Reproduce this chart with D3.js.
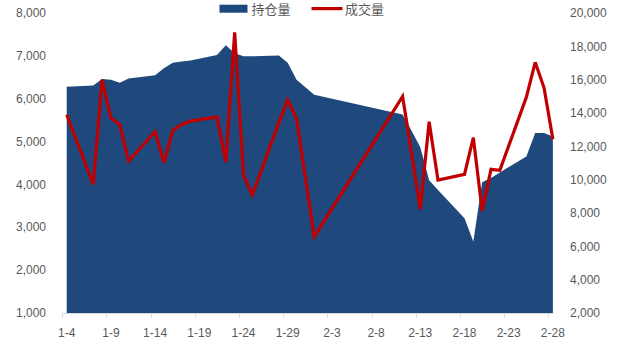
<!DOCTYPE html>
<html>
<head>
<meta charset="utf-8">
<script src="https://cdn.jsdelivr.net/npm/d3@7"></script>
<style>
  html, body { margin: 0; padding: 0; background: #fff; }
  svg { display: block; }
  text { font-family: "Liberation Sans", Arial, sans-serif; fill: #595959; }
  .legend text { font-family: "Noto Sans CJK SC", sans-serif; }
</style>
</head>
<body>
<svg id="chart" width="619" height="342"></svg>
<script>
// ---- data (month-day, year 2021) ----
const dates = ["1-4","1-7","1-8","1-9","1-10","1-11","1-14","1-15","1-16","1-17","1-18",
  "1-21","1-22","1-23","1-24","1-25","1-28","1-29","1-30","2-1","2-11","2-12","2-13",
  "2-14","2-15","2-18","2-19","2-20","2-21","2-22","2-25","2-26","2-27","2-28"];
const openInterest = [6280,6310,6460,6440,6375,6470,6550,6710,6840,6870,6890,
  7020,7250,7060,6990,6990,7010,6840,6440,6090,5630,5260,4870,
  4100,3870,3210,2670,4050,4150,4280,4650,5200,5200,5120];
const volume = [13900,9720,16000,13700,13310,11120,12880,11020,12950,13310,13510,
  13770,11060,18840,10260,9090,13420,14780,13660,6580,14990,11640,8225,
  13475,9980,10320,12520,8125,10620,10560,14950,17040,15510,12420];
const xTickLabels = ["1-4","1-9","1-14","1-19","1-24","1-29","2-3","2-8","2-13","2-18","2-23","2-28"];
const leftTicks = [1000,2000,3000,4000,5000,6000,7000,8000];
const rightTicks = [2000,4000,6000,8000,10000,12000,14000,16000,18000,20000];
const seriesNames = ["持仓量","成交量"];

const YEAR = 2021;
const DAY = 86400000;
const parse = s => { const [m, d] = s.split("-").map(Number); return new Date(Date.UTC(YEAR, m - 1, d)); };
const rows = dates.map((d, i) => ({ date: parse(d), oi: openInterest[i], vol: volume[i] }));

const svg = d3.select("#chart");
const first = parse(xTickLabels[0]);
const last = parse(xTickLabels[xTickLabels.length - 1]);

const x = d3.scaleUtc()
  .domain([new Date(+first - DAY / 2), new Date(+last + DAY / 2)])
  .range([62.3, 557.3]);
const yL = d3.scaleLinear().domain([1000, 8000]).range([313, 13]);
const yR = d3.scaleLinear().domain([2000, 20000]).range([313, 13]);

// area
const area = d3.area()
  .x(d => x(d.date))
  .y0(yL(1000))
  .y1(d => yL(d.oi));
svg.append("path").datum(rows)
  .attr("d", area)
  .attr("fill", "#1F497D");

// x axis line + ticks
svg.append("line")
  .attr("x1", x(new Date(+first - DAY / 2))).attr("x2", x(last))
  .attr("y1", 313.5).attr("y2", 313.5)
  .attr("stroke", "#D9D9D9").attr("stroke-width", 1);
const tickDates = xTickLabels.map(parse);
svg.append("g").selectAll("line").data(tickDates).join("line")
  .attr("x1", d => Math.round(x(new Date(+d - DAY / 2))) + 0.5)
  .attr("x2", d => Math.round(x(new Date(+d - DAY / 2))) + 0.5)
  .attr("y1", 313).attr("y2", 317.5)
  .attr("stroke", "#D9D9D9").attr("stroke-width", 1);
svg.append("g").selectAll("text").data(xTickLabels).join("text")
  .attr("x", d => x(parse(d)))
  .attr("y", 336.5)
  .attr("text-anchor", "middle")
  .attr("font-size", 12)
  .text(d => d);

// line
const line = d3.line()
  .x(d => x(d.date))
  .y(d => yR(d.vol));
svg.append("path").datum(rows)
  .attr("d", line)
  .attr("fill", "none")
  .attr("stroke", "#C00000")
  .attr("stroke-width", 3.2)
  .attr("stroke-linejoin", "miter")
  .attr("stroke-miterlimit", 3);

// left axis labels
const fmt = d3.format(",");
svg.append("g").selectAll("text").data(leftTicks).join("text")
  .attr("x", 46)
  .attr("y", d => yL(d))
  .attr("dy", "0.35em")
  .attr("text-anchor", "end")
  .attr("font-size", 12)
  .text(d => fmt(d));

// right axis labels
svg.append("g").selectAll("text").data(rightTicks).join("text")
  .attr("x", 570)
  .attr("y", d => yR(d))
  .attr("dy", "0.35em")
  .attr("text-anchor", "start")
  .attr("font-size", 12)
  .text(d => fmt(d));

// legend
const lg = svg.append("g").attr("class", "legend");
lg.append("rect").attr("x", 219.5).attr("y", 4.7).attr("width", 28).attr("height", 8)
  .attr("fill", "#1F497D");
lg.append("text").attr("x", 251.5).attr("y", 8.8).attr("dominant-baseline", "central")
  .attr("font-size", 13).text(seriesNames[0]);
lg.append("line").attr("x1", 311.5).attr("x2", 342.5).attr("y1", 8.6).attr("y2", 8.6)
  .attr("stroke", "#C00000").attr("stroke-width", 3.2);
lg.append("text").attr("x", 345).attr("y", 8.8).attr("dominant-baseline", "central")
  .attr("font-size", 13).text(seriesNames[1]);
</script>
</body>
</html>
